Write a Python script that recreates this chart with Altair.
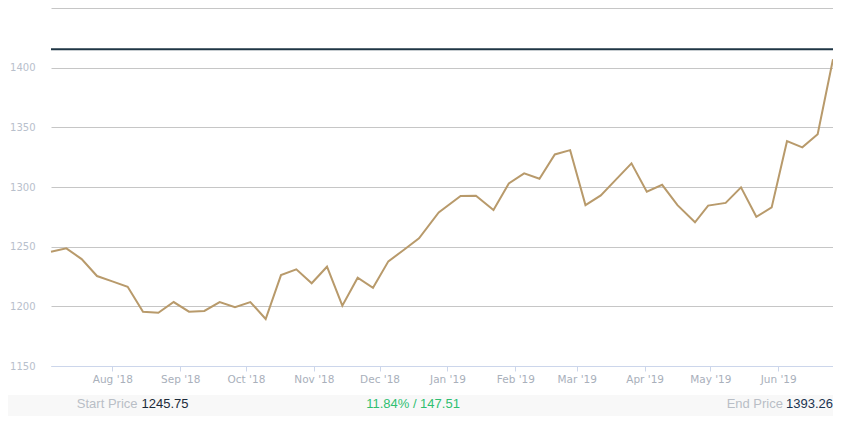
import altair as alt
import pandas as pd

dates = ["2018-07-04","2018-07-11","2018-07-18","2018-07-25","2018-08-01","2018-08-08","2018-08-15",
         "2018-08-22","2018-08-29","2018-09-05","2018-09-12","2018-09-19","2018-09-26","2018-10-03",
         "2018-10-10","2018-10-17","2018-10-24","2018-10-31","2018-11-07","2018-11-14","2018-11-21",
         "2018-11-28","2018-12-05","2018-12-12","2018-12-19","2018-12-28","2019-01-07","2019-01-14",
         "2019-01-22","2019-01-29","2019-02-05","2019-02-12","2019-02-19","2019-02-26","2019-03-05",
         "2019-03-12","2019-03-19","2019-03-26","2019-04-02","2019-04-09","2019-04-16","2019-04-24",
         "2019-04-30","2019-05-08","2019-05-15","2019-05-22","2019-05-29","2019-06-05","2019-06-12",
         "2019-06-19","2019-06-26"]
prices = [1245.75, 1248.6, 1239.6, 1225.4, 1220.9, 1216.4, 1195.5, 1194.6, 1203.6, 1195.5,
          1196.1, 1203.6, 1199.2, 1203.6, 1189.4, 1226.2, 1231.0, 1219.3, 1233.2, 1200.5,
          1224.0, 1215.6, 1237.7, 1247.2, 1257.0, 1278.7, 1292.4, 1292.6, 1280.7, 1303.0,
          1311.4, 1306.9, 1327.3, 1330.9, 1284.8, 1293.0, 1306.4, 1319.8, 1296.1, 1301.8,
          1284.8, 1270.4, 1284.4, 1286.7, 1299.7, 1275.0, 1282.9, 1338.4, 1333.2, 1344.3,
          1407.1]
y_ticks = [1150, 1200, 1250, 1300, 1350, 1400, 1450]
month_ticks = [(2018, 8), (2018, 9), (2018, 10), (2018, 11), (2018, 12), (2019, 1),
               (2019, 2), (2019, 3), (2019, 4), (2019, 5), (2019, 6)]
reference_level = [1415.5]
start_price = 1245.75
end_price = 1393.26
change_pct = 11.84
change_abs = 147.51

W, H = 782, 358

df = pd.DataFrame({"date": dates, "price": prices})

x_enc = alt.X("date:T",
              scale=alt.Scale(type="utc", domain=[alt.DateTime(year=2018, month=7, date=4, utc=True),
                                                   alt.DateTime(year=2019, month=6, date=26, utc=True)],
                              nice=False),
              axis=alt.Axis(title=None, format="%b '%y", grid=False,
                            values=[alt.DateTime(year=y, month=m, date=1, utc=True) for y, m in month_ticks],
                            domainColor="#ccd6eb", domainWidth=1, tickColor="#ccd6eb", tickSize=5,
                            labelColor="#a9b0bb", labelFont="DejaVu Sans", labelFontSize=10.5,
                            labelPadding=3, labelOverlap=False))
y_scale = alt.Scale(domain=[1150, 1450], nice=False, zero=False)
y_enc = alt.Y("price:Q", scale=y_scale,
              axis=alt.Axis(title=None, values=y_ticks, domain=False, ticks=False,
                            gridColor="#c6c6c6", gridWidth=1,
                            labelExpr="datum.value == 1450 ? '' : datum.value",
                            labelColor="#b8c0cc", labelFont="DejaVu Sans", labelFontSize=10,
                            labelPadding=16))

one = alt.Data(values=[{"a": 1}])

band = alt.Chart(one).mark_rect(color="#f8f8f8").encode(
    x=alt.value(-43), x2=alt.value(W), y=alt.value(387), y2=alt.value(410))

line = alt.Chart(df).mark_line(color="#b89a6b", strokeWidth=2).encode(x=x_enc, y=y_enc)

rule = alt.Chart(pd.DataFrame({"price": reference_level})).mark_rule(
    color="#1f3645", strokeWidth=2).encode(y=alt.Y("price:Q", scale=y_scale))

def txt(s, x, color, align):
    return alt.Chart(alt.Data(values=[{"t": s}])).mark_text(
        font="Liberation Sans", fontSize=13, color=color, align=align, baseline="alphabetic"
    ).encode(text="t:N", x=alt.value(x), y=alt.value(400))

texts = [
    txt("Start Price", 86.5, "#b9bec6", "right"),
    txt(f"{start_price:.2f}", 90.5, "#1c2b3a", "left"),
    txt(f"{change_pct:.2f}% / {change_abs:.2f}", 362, "#2fbf71", "center"),
    txt("End Price", 732, "#b9bec6", "right"),
    txt(f"{end_price:.2f}", W, "#1a3350", "right"),
]

chart = alt.layer(band, line, rule, *texts).properties(
    width=W, height=H,
    autosize=alt.AutoSizeParams(type="none"),
    padding={"left": 43, "top": 0, "right": 0, "bottom": 50},
).configure_view(stroke=None)

chart.save("out.html", embed_options={"renderer": "svg", "actions": False})
